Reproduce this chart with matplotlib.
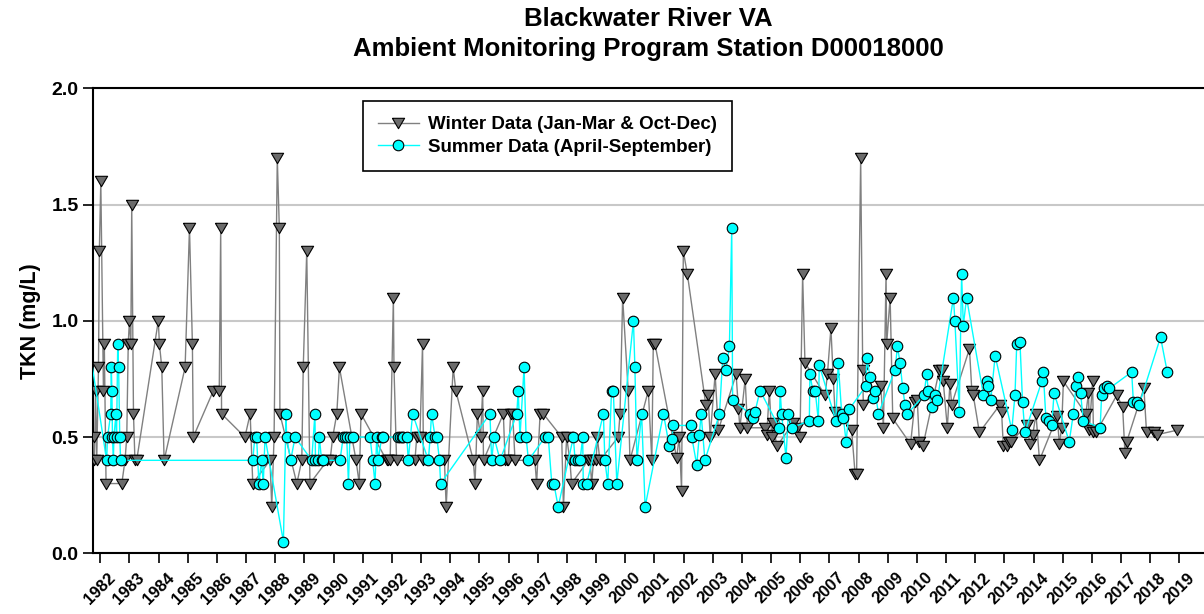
import matplotlib
matplotlib.use("Agg")
import matplotlib.pyplot as plt

plt.rcParams['font.family'] = ['Liberation Sans', 'DejaVu Sans']
plt.rcParams['font.weight'] = 'bold'

# TKN samples, decimal year / mg/L
winter_year = [
    1981.77, 1981.80, 1981.84, 1981.88, 1981.94, 1981.97, 1982.02, 1982.11, 1982.14, 1982.20,
    1982.74, 1982.85, 1982.91, 1982.96, 1983.00, 1983.05, 1983.08, 1983.14, 1983.19, 1983.25,
    1983.99, 1984.03, 1984.11, 1984.19, 1984.91, 1985.06, 1985.16, 1985.19, 1985.88, 1986.08,
    1986.13, 1986.16, 1986.96, 1987.14, 1987.23, 1987.82, 1987.88, 1987.96, 1988.07, 1988.14,
    1988.16, 1988.74, 1988.91, 1988.96, 1989.08, 1989.19, 1989.79, 1989.88, 1989.97, 1990.11,
    1990.20, 1990.77, 1990.88, 1990.94, 1991.82, 1991.88, 1991.94, 1992.05, 1992.07, 1992.16,
    1992.79, 1992.85, 1992.96, 1993.05, 1993.08, 1993.80, 1993.86, 1994.10, 1994.19, 1994.79,
    1994.85, 1994.93, 1995.04, 1995.11, 1995.14, 1995.82, 1995.88, 1995.93, 1995.99, 1996.07,
    1996.14, 1996.22, 1996.90, 1996.96, 1997.08, 1997.19, 1997.82, 1997.88, 1997.99, 1998.10,
    1998.16, 1998.73, 1998.79, 1998.85, 1998.91, 1999.00, 1999.04, 1999.13, 1999.76, 1999.82,
    1999.91, 2000.10, 2000.16, 2000.79, 2000.91, 2000.96, 2001.02, 2001.76, 2001.85, 2001.93,
    2001.99, 2002.13, 2002.76, 2002.84, 2002.91, 2003.08, 2003.19, 2003.80, 2003.88, 2003.93,
    2004.11, 2004.19, 2004.79, 2004.85, 2004.94, 2005.02, 2005.08, 2005.19, 2005.76, 2005.88,
    2005.99, 2006.08, 2006.16, 2006.85, 2006.93, 2007.05, 2007.13, 2007.19, 2007.76, 2007.88,
    2007.93, 2008.07, 2008.14, 2008.16, 2008.76, 2008.85, 2008.94, 2008.96, 2009.08, 2009.17,
    2009.78, 2009.93, 2010.01, 2010.08, 2010.20, 2010.77, 2010.85, 2010.90, 2011.04, 2011.13,
    2011.19, 2011.80, 2011.88, 2011.93, 2012.14, 2012.85, 2012.90, 2012.96, 2013.08, 2013.17,
    2013.21, 2013.76, 2013.88, 2013.97, 2014.08, 2014.20, 2014.81, 2014.88, 2014.96, 2015.02,
    2015.79, 2015.88, 2015.91, 2016.02, 2016.05, 2016.14, 2016.85, 2017.05, 2017.13, 2017.19,
    2017.78, 2017.87, 2018.13, 2018.22, 2018.93]
winter_tkn = [
    0.5, 0.4, 0.7, 0.4, 0.8, 1.3, 1.6, 0.7, 0.9, 0.3,
    0.3, 0.4, 0.5, 0.9, 1.0, 0.9, 1.5, 0.6, 0.4, 0.4,
    1.0, 0.9, 0.8, 0.4, 0.8, 1.4, 0.9, 0.5, 0.7, 0.7,
    1.4, 0.6, 0.5, 0.6, 0.3, 0.4, 0.2, 0.5, 1.7, 1.4,
    0.6, 0.3, 0.4, 0.8, 1.3, 0.3, 0.4, 0.4, 0.5, 0.6,
    0.8, 0.4, 0.3, 0.6, 0.4, 0.4, 0.4, 1.1, 0.8, 0.4,
    0.4, 0.5, 0.5, 0.9, 0.4, 0.4, 0.2, 0.8, 0.7, 0.4,
    0.3, 0.6, 0.5, 0.7, 0.4, 0.6, 0.4, 0.4, 0.4, 0.6,
    0.6, 0.4, 0.4, 0.3, 0.6, 0.6, 0.5, 0.2, 0.5, 0.4,
    0.3, 0.4, 0.4, 0.3, 0.4, 0.4, 0.5, 0.4, 0.5, 0.6,
    1.1, 0.7, 0.4, 0.7, 0.4, 0.9, 0.9, 0.41, 0.5, 0.27,
    1.3, 1.2, 0.64, 0.68, 0.5, 0.77, 0.53, 0.77, 0.62, 0.54,
    0.75, 0.54, 0.54, 0.51, 0.70, 0.50, 0.56, 0.46, 0.56, 0.54,
    0.50, 1.2, 0.82, 0.68, 0.77, 0.97, 0.75, 0.61, 0.53, 0.34,
    0.34, 1.7, 0.79, 0.64, 0.72, 0.54, 1.2, 0.9, 1.1, 0.58,
    0.47, 0.65, 0.66, 0.48, 0.46, 0.79, 0.79, 0.74, 0.54, 0.73,
    0.64, 0.88, 0.70, 0.68, 0.52, 0.64, 0.61, 0.46, 0.46, 0.48,
    0.48, 0.55, 0.47, 0.51, 0.60, 0.40, 0.59, 0.47, 0.54, 0.74,
    0.60, 0.69, 0.53, 0.74, 0.52, 0.52, 0.68, 0.63, 0.43, 0.48,
    0.71, 0.52, 0.52, 0.51, 0.53]

summer_year = [
    1981.55, 1982.22, 1982.25, 1982.36, 1982.38, 1982.40, 1982.42, 1982.45, 1982.47, 1982.54,
    1982.56, 1982.60, 1982.63, 1982.67, 1982.70, 1987.23, 1987.30, 1987.36, 1987.44, 1987.53,
    1987.59, 1987.65, 1988.28, 1988.37, 1988.39, 1988.53, 1988.68, 1989.25, 1989.36, 1989.38,
    1989.48, 1989.51, 1989.59, 1989.65, 1990.22, 1990.33, 1990.39, 1990.45, 1990.51, 1990.56,
    1990.68, 1991.25, 1991.34, 1991.42, 1991.48, 1991.53, 1991.65, 1991.71, 1992.22, 1992.28,
    1992.33, 1992.39, 1992.51, 1992.56, 1992.71, 1993.25, 1993.31, 1993.36, 1993.48, 1993.54,
    1993.63, 1993.67, 1995.36, 1995.42, 1995.50, 1995.71, 1996.28, 1996.33, 1996.39, 1996.53,
    1996.60, 1996.68, 1997.25, 1997.36, 1997.48, 1997.55, 1997.70, 1998.22, 1998.28, 1998.39,
    1998.45, 1998.54, 1998.56, 1998.68, 1999.25, 1999.30, 1999.40, 1999.53, 1999.59, 1999.71,
    2000.28, 2000.33, 2000.40, 2000.56, 2000.68, 2001.31, 2001.51, 2001.59, 2001.65, 2002.24,
    2002.28, 2002.45, 2002.54, 2002.60, 2002.73, 2003.23, 2003.34, 2003.45, 2003.57, 2003.65,
    2003.68, 2004.28, 2004.37, 2004.45, 2004.62, 2005.28, 2005.31, 2005.36, 2005.51, 2005.59,
    2005.71, 2006.31, 2006.33, 2006.43, 2006.51, 2006.62, 2006.65, 2007.22, 2007.30, 2007.42,
    2007.48, 2007.57, 2007.68, 2008.25, 2008.28, 2008.39, 2008.48, 2008.56, 2008.68, 2009.25,
    2009.33, 2009.42, 2009.51, 2009.59, 2009.67, 2010.24, 2010.33, 2010.39, 2010.50, 2010.62,
    2010.70, 2011.25, 2011.30, 2011.45, 2011.53, 2011.59, 2011.70, 2012.28, 2012.39, 2012.45,
    2012.53, 2012.68, 2013.25, 2013.36, 2013.42, 2013.53, 2013.62, 2013.70, 2014.28, 2014.33,
    2014.42, 2014.54, 2014.62, 2014.70, 2015.22, 2015.36, 2015.45, 2015.53, 2015.61, 2015.70,
    2016.28, 2016.33, 2016.41, 2016.50, 2016.60, 2017.36, 2017.42, 2017.53, 2017.62, 2018.35,
    2018.58]
summer_tkn = [
    0.95, 0.4, 0.5, 0.6, 0.8, 0.7, 0.5, 0.4, 0.5, 0.6,
    0.5, 0.9, 0.8, 0.5, 0.4, 0.4, 0.5, 0.5, 0.3, 0.4,
    0.3, 0.5, 0.05, 0.6, 0.5, 0.4, 0.5, 0.4, 0.6, 0.4,
    0.4, 0.5, 0.4, 0.4, 0.4, 0.5, 0.5, 0.5, 0.3, 0.5,
    0.5, 0.5, 0.4, 0.3, 0.5, 0.4, 0.5, 0.5, 0.5, 0.5,
    0.5, 0.5, 0.5, 0.4, 0.6, 0.4, 0.5, 0.6, 0.5, 0.5,
    0.4, 0.3, 0.6, 0.4, 0.5, 0.4, 0.6, 0.7, 0.5, 0.8,
    0.5, 0.4, 0.5, 0.5, 0.3, 0.3, 0.2, 0.5, 0.4, 0.4,
    0.4, 0.5, 0.3, 0.3, 0.6, 0.4, 0.3, 0.7, 0.7, 0.3,
    1.0, 0.8, 0.4, 0.6, 0.2, 0.6, 0.46, 0.49, 0.55, 0.55,
    0.50, 0.38, 0.51, 0.60, 0.40, 0.60, 0.84, 0.79, 0.89, 1.40,
    0.66, 0.60, 0.58, 0.61, 0.70, 0.54, 0.70, 0.60, 0.41, 0.60,
    0.54, 0.57, 0.77, 0.70, 0.70, 0.57, 0.81, 0.57, 0.82, 0.60,
    0.58, 0.48, 0.62, 0.72, 0.84, 0.76, 0.67, 0.70, 0.60, 0.79,
    0.89, 0.82, 0.71, 0.64, 0.60, 0.68, 0.77, 0.70, 0.63, 0.68,
    0.66, 1.10, 1.00, 0.61, 1.20, 0.98, 1.10, 0.68, 0.74, 0.72,
    0.66, 0.85, 0.53, 0.68, 0.90, 0.91, 0.65, 0.52, 0.74, 0.78,
    0.58, 0.57, 0.55, 0.69, 0.48, 0.60, 0.72, 0.76, 0.69, 0.57,
    0.54, 0.68, 0.71, 0.72, 0.71, 0.78, 0.65, 0.65, 0.64, 0.93,
    0.78]

years = list(range(1982, 2020))

# flattened down-pointing triangle
tri_down = [(-1, 0.85), (1, 0.85), (0, -0.85), (-1, 0.85)]

fig = plt.figure(figsize=(12.04, 6.14), dpi=100)
ax = fig.add_axes([0.0775, 0.0989, 0.9225, 0.757])

ax.plot(winter_year, winter_tkn, color='#808080', lw=1.0, marker=tri_down,
        markersize=8.8, markerfacecolor='#6b6b6b', markeredgecolor='black',
        markeredgewidth=0.8, label='Winter Data (Jan-Mar & Oct-Dec)', zorder=3)
ax.plot(summer_year, summer_tkn, color='#00ffff', lw=1.0, marker='o',
        markersize=7.6, markerfacecolor='#00ffff', markeredgecolor='black',
        markeredgewidth=0.8, label='Summer Data (April-September)', zorder=4)

ax.set_xlim(1981.763, 2019.84)
ax.set_ylim(0, 2.0)
ax.set_xticks(years)
ax.set_xticklabels([str(y) for y in years], rotation=45, ha='center',
                   fontsize=12, fontweight='bold')
ax.set_yticks([0.0, 0.5, 1.0, 1.5, 2.0])
ax.set_yticklabels(['0.0', '0.5', '1.0', '1.5', '2.0'], fontsize=14, fontweight='bold')
ax.tick_params(direction='out', length=7, width=1.2, colors='black')
ax.tick_params(axis='x', pad=5)

ax.yaxis.grid(True, color='#c8c8c8', lw=1.5)
ax.set_axisbelow(True)
for side in ['left', 'bottom', 'top']:
    ax.spines[side].set_linewidth(1.5)
ax.spines['right'].set_visible(False)

ax.set_ylabel('TKN (mg/L)', fontsize=15.5, fontweight='bold')
ax.yaxis.set_label_coords(-0.047, 0.5)

fig.text(648.5 / 1204, 1 - 34 / 614,
         'Blackwater River VA\nAmbient Monitoring Program Station D00018000',
         ha='center', va='center', fontsize=18.5, fontweight='bold', linespacing=1.3)

leg = ax.legend(loc='upper left', bbox_to_anchor=(0.2425, 0.9727), borderaxespad=0,
                fontsize=13.5, frameon=True, fancybox=False, framealpha=1,
                edgecolor='black', handlelength=2.2, handletextpad=0.5,
                borderpad=0.8, labelspacing=0.3)
leg.get_frame().set_linewidth(1.2)
for t in leg.get_texts():
    t.set_fontweight('bold')

plt.savefig('out.png', dpi=100)
